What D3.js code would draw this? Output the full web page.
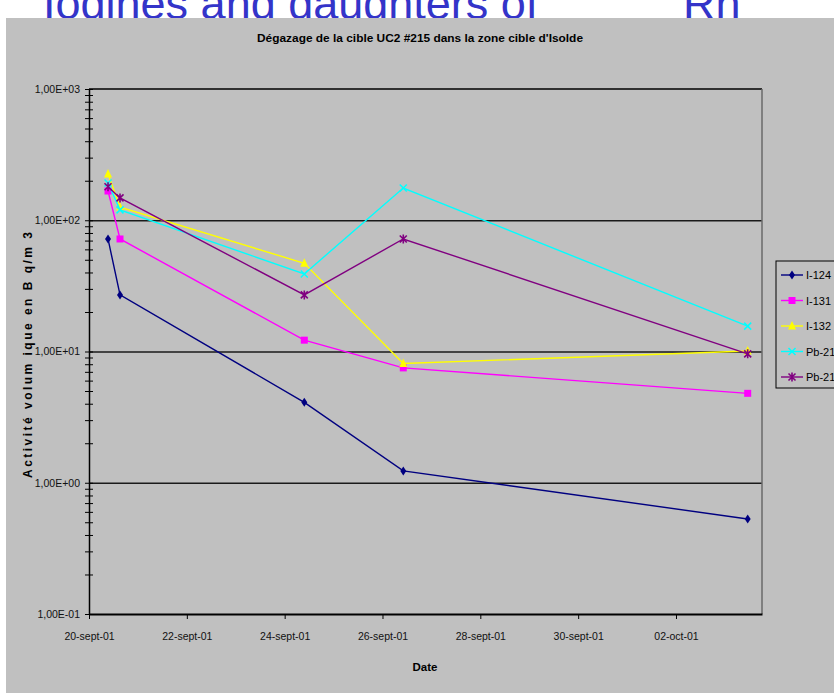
<!DOCTYPE html>
<html>
<head>
<meta charset="utf-8">
<script src="https://cdn.jsdelivr.net/npm/d3@7/dist/d3.min.js"></script>
<style>
  html, body { margin: 0; padding: 0; background: #ffffff; overflow: hidden; }
  svg { display: block; font-family: "Liberation Sans", Arial, sans-serif; }
</style>
</head>
<body>
<svg id="chart" width="834" height="693"></svg>
<script>
// ---------- data ----------
const dates = ["2001-09-20T09:20", "2001-09-20T15:13", "2001-09-24T09:38", "2001-09-26T10:12", "2001-10-03T11:11"];
const seriesNames = ["I-124", "I-131", "I-132", "Pb-21", "Pb-21"];
const i124 = [72, 27, 4.1, 1.23, 0.53];
const i131 = [167, 72, 12.2, 7.5, 4.8];
const i132 = [225, 126, 47, 8.1, 10.1];
const pb21a = [192, 120, 39, 176, 15.6];
const pb21b = [180, 148, 27, 72, 9.6];
const xTickDates = ["2001-09-20", "2001-09-22", "2001-09-24", "2001-09-26", "2001-09-28", "2001-09-30", "2001-10-02"];
const xTickLabels = ["20-sept-01", "22-sept-01", "24-sept-01", "26-sept-01", "28-sept-01", "30-sept-01", "02-oct-01"];
const yTickValues = [0.1, 1, 10, 100, 1000];
const yTickLabels = ["1,00E-01", "1,00E+00", "1,00E+01", "1,00E+02", "1,00E+03"];
const xDomain = ["2001-09-20T00:00", "2001-10-03T18:12"];
const chartTitle = "Dégazage de la cible UC2 #215 dans la zone cible d'Isolde";
const yTitle = "Activité volum ique en B q/m 3";
const xTitle = "Date";
const headerText = "Iodines and daughters of";
const headerText2 = "Rn";

// ---------- setup ----------
const parseT = d3.timeParse("%Y-%m-%dT%H:%M");
const parseD = d3.timeParse("%Y-%m-%d");
const svg = d3.select("#chart");
const L = 89, R = 762, T = 89, B = 614;

const x = d3.scaleTime().domain(xDomain.map(parseT)).range([L, R]);
const y = d3.scaleLog().domain([0.1, 1000]).range([B, T]);

// header text (partially covered by the chart area, as in the reference)
svg.append("text").attr("x", 43).attr("y", 19).attr("font-size", 45)
  .attr("fill", "#3434c9").text(headerText);
svg.append("text").attr("x", 683).attr("y", 19).attr("font-size", 45)
  .attr("fill", "#3434c9").text(headerText2);

// gray chart area
svg.append("rect").attr("x", 6).attr("y", 18).attr("width", 828).attr("height", 675)
  .attr("fill", "#c0c0c0");

// title
svg.append("text").attr("x", 420).attr("y", 42).attr("text-anchor", "middle")
  .attr("font-size", 11).attr("font-weight", "bold").attr("fill", "#000")
  .attr("textLength", 326).attr("lengthAdjust", "spacingAndGlyphs")
  .text(chartTitle);

// gridlines at major decades
const grid = svg.append("g").attr("transform", `translate(${L},0)`)
  .call(d3.axisLeft(y).tickValues([1, 10, 100]).tickSize(-(R - L)).tickFormat(""));
grid.select(".domain").remove();
grid.selectAll(".tick line").attr("stroke", "#1a1a1a").attr("stroke-width", 1.3);

// top border and right border
svg.append("line").attr("x1", L).attr("x2", R).attr("y1", y(1000)).attr("y2", y(1000))
  .attr("stroke", "#000").attr("stroke-width", 1.5);
svg.append("line").attr("x1", R).attr("x2", R).attr("y1", T).attr("y2", B)
  .attr("stroke", "#6a6a6a").attr("stroke-width", 1.5);

// y axis: all ticks (major+minor) crossing the axis
const allY = [];
for (let e = -1; e < 3; e++) for (let m = 1; m < 10; m++) allY.push(m * Math.pow(10, e));
allY.push(1000);
const yAxL = svg.append("g").attr("transform", `translate(${L},0)`)
  .call(d3.axisLeft(y).tickValues(allY).tickSize(4).tickFormat(""));
const yAxR = svg.append("g").attr("transform", `translate(${L},0)`)
  .call(d3.axisRight(y).tickValues(allY).tickSize(4).tickFormat(""));
[yAxL, yAxR].forEach(g => {
  g.select(".domain").remove();
  g.selectAll(".tick line").attr("stroke", "#000").attr("stroke-width", 1);
});
const yLab = svg.append("g").attr("transform", `translate(${L},0)`)
  .call(d3.axisLeft(y).tickValues(yTickValues).tickSize(0).tickPadding(9)
    .tickFormat((d, i) => yTickLabels[i]));
yLab.select(".domain").attr("stroke", "#000").attr("stroke-width", 1.5);
yLab.selectAll(".tick text").attr("font-size", 10.5).attr("fill", "#111")
  .attr("font-family", "Liberation Sans, Arial, sans-serif");

// x axis
const xAx = svg.append("g").attr("transform", `translate(0,${B})`)
  .call(d3.axisBottom(x).tickValues(xTickDates.map(parseD)).tickSizeInner(5).tickSizeOuter(0)
    .tickPadding(14).tickFormat((d, i) => xTickLabels[i]));
xAx.select(".domain").attr("stroke", "#000").attr("stroke-width", 2.2);
xAx.selectAll(".tick line").attr("stroke", "#000").attr("stroke-width", 1);
xAx.selectAll(".tick text").attr("font-size", 10.5).attr("fill", "#111")
  .attr("font-family", "Liberation Sans, Arial, sans-serif");

// axis titles
svg.append("text").attr("x", 425).attr("y", 671).attr("text-anchor", "middle")
  .attr("font-size", 11.5).attr("font-weight", "bold").text(xTitle);
svg.append("text").attr("transform", "translate(32,355) rotate(-90)")
  .attr("text-anchor", "middle").attr("font-size", 12).attr("font-weight", "bold")
  .attr("textLength", 246).attr("lengthAdjust", "spacing").text(yTitle);

// ---------- series ----------
const tDates = dates.map(parseT);
const colors = ["#000080", "#ff00ff", "#ffff00", "#00ffff", "#800080"];
const shapes = ["diamond", "square", "triangle", "x", "star"];
const allSeries = [i124, i131, i132, pb21a, pb21b];

function drawMarker(g, shape, color) {
  if (shape === "diamond") {
    g.append("path").attr("d", "M0,-4.5L3,0L0,4.5L-3,0Z").attr("fill", color);
  } else if (shape === "square") {
    g.append("rect").attr("x", -3.5).attr("y", -3.5).attr("width", 7).attr("height", 7).attr("fill", color);
  } else if (shape === "triangle") {
    g.append("path").attr("d", "M0,-5L4,3.5L-4,3.5Z").attr("fill", color);
  } else if (shape === "x") {
    g.append("path").attr("d", "M-3.5,-3.5L3.5,3.5M3.5,-3.5L-3.5,3.5")
      .attr("stroke", color).attr("stroke-width", 1.5).attr("fill", "none");
  } else if (shape === "star") {
    g.append("path").attr("d", "M-3.5,-3.5L3.5,3.5M3.5,-3.5L-3.5,3.5M0,-4.5L0,4.5")
      .attr("stroke", color).attr("stroke-width", 1.6).attr("fill", "none");
  }
}

const line = d3.line().x(d => x(d[0])).y(d => y(d[1]));
allSeries.forEach((vals, si) => {
  const pts = vals.map((v, i) => [tDates[i], v]);
  svg.append("path").datum(pts).attr("d", line).attr("fill", "none")
    .attr("stroke", colors[si]).attr("stroke-width", 1.4);
  pts.forEach(p => {
    const g = svg.append("g").attr("transform", `translate(${x(p[0])},${y(p[1])})`);
    drawMarker(g, shapes[si], colors[si]);
  });
});

// ---------- legend ----------
const leg = svg.append("g");
leg.append("rect").attr("x", 776).attr("y", 261).attr("width", 80).attr("height", 127)
  .attr("fill", "#c0c0c0").attr("stroke", "#000").attr("stroke-width", 1);
seriesNames.forEach((name, i) => {
  const yy = 275 + i * 25.5;
  leg.append("line").attr("x1", 781).attr("x2", 803).attr("y1", yy).attr("y2", yy)
    .attr("stroke", colors[i]).attr("stroke-width", 1.4);
  const g = leg.append("g").attr("transform", `translate(792,${yy})`);
  drawMarker(g, shapes[i], colors[i]);
  leg.append("text").attr("x", 806).attr("y", yy + 4).attr("font-size", 11)
    .attr("fill", "#000").text(name);
});
</script>
</body>
</html>
